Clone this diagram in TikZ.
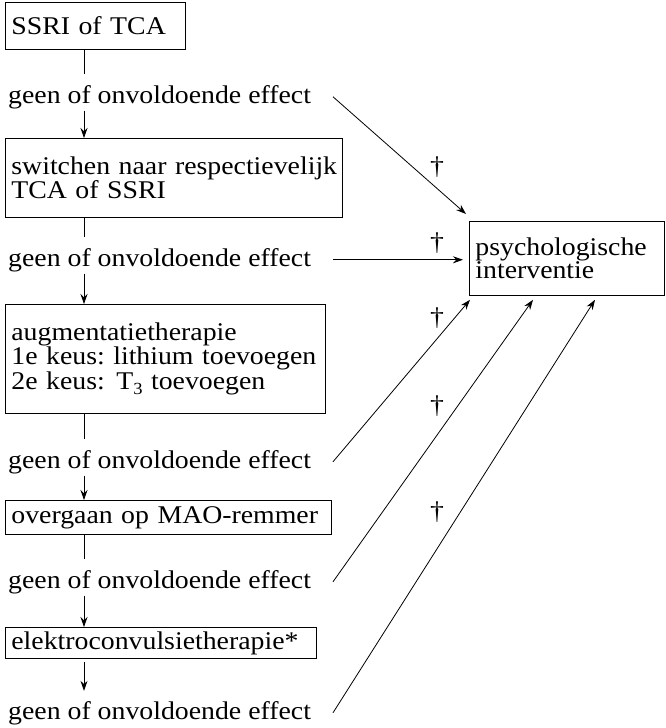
\documentclass[tikz,border=0pt]{standalone}
\usepackage{fontspec}
\setmainfont{Liberation Serif}[FakeStretch=1.09]
\usetikzlibrary{arrows.meta,calc}
\frenchspacing
\begin{document}
\begin{tikzpicture}[x=1pt,y=-1pt,
  every node/.style={font=\fontsize{25.5pt}{23pt}\selectfont},
  box/.style={draw, line width=0.8pt, anchor=north west, inner xsep=6pt, inner ysep=0pt, align=left},
  lbl/.style={anchor=base west, inner sep=2pt},
  ln/.style={line width=0.8pt},
  arr/.style={line width=0.8pt, -{Stealth[length=10pt,width=7pt]}},
  dag/.style={inner sep=0pt}]
\useasboundingbox (0,0) rectangle (665,728);
\coordinate (sp) at (84,0);
\coordinate (sx) at (333,0);
% left column boxes
\node[box, minimum width=180pt, minimum height=47pt, text width=168pt] (b1) at (5,2) {\mbox{SSRI of TCA}};
\node[box, minimum width=337pt, minimum height=79pt, text width=325pt] (b2) at (5,138) {\mbox{switchen naar respectievelijk}\\\mbox{TCA of SSRI}};
\node[box, minimum width=320pt, minimum height=109pt, text width=308pt] (b3) at (5,304) {\mbox{augmentatietherapie}\\\mbox{1e keus: lithium toevoegen}\\\mbox{2e keus:\hspace{3pt} T\raisebox{-5pt}{\fontsize{17pt}{17pt}\selectfont 3} toevoegen}};
\node[box, minimum width=326pt, minimum height=34pt, text width=314pt] (b4) at (5,500) {\mbox{overgaan op MAO-remmer}};
\node[box, minimum width=311pt, minimum height=31pt, text width=299pt] (b5) at (5,627) {\mbox{elektroconvulsietherapie*}};
% right box
\node[box, minimum width=195pt, minimum height=74pt, text width=183pt] (r) at (469,221) {\mbox{psychologische}\\\mbox{interventie}};
% labels
\node[lbl] (g1) at (6,103) {geen of onvoldoende effect};
\node[lbl] (g2) at (6,266) {geen of onvoldoende effect};
\node[lbl] (g3) at (6,468) {geen of onvoldoende effect};
\node[lbl] (g4) at (6,588) {geen of onvoldoende effect};
\node[lbl] (g5) at (6,719) {geen of onvoldoende effect};
% daggers
\node[dag] (d1) at (437,167) {†};
\node[dag] (d2) at (437,243) {†};
\node[dag] (d3) at (437,318) {†};
\node[dag] (d4) at (437,406) {†};
\node[dag] (d5) at (437,512) {†};
% vertical chain
\draw[ln] (b1.south -| sp) -- ($(g1.north -| sp)+(0,-9)$);
\draw[arr] (g1.south -| sp) -- (b2.north -| sp);
\draw[ln] (b2.south -| sp) -- ($(g2.north -| sp)+(0,-9)$);
\draw[arr] (g2.south -| sp) -- (b3.north -| sp);
\draw[ln] (b3.south -| sp) -- ($(g3.north -| sp)+(0,-9)$);
\draw[arr] (g3.south -| sp) -- (b4.north -| sp);
\draw[ln] (b4.south -| sp) -- ($(g4.north -| sp)+(0,-9)$);
\draw[arr] (g4.south -| sp) -- (b5.north -| sp);
\draw[arr] ($(b5.south -| sp)+(0,3)$) -- ($(g5.north -| sp)+(0,-8)$);
% diagonal arrows to the right box
\draw[arr] (g1 -| sx) -- ($(r.north west)+(-3,-7)$);
\draw[arr] (g2 -| sx) -- ($(r.west |- g2)+(-6,0)$);
\draw[arr] (g3 -| sx) -- ($(r.south west)+(1,4)$);
\draw[arr] (g4 -| sx) -- ($(r.south west)+(64,4)$);
\draw[arr] (g5 -| sx) -- ($(r.south west)+(126,4)$);
\end{tikzpicture}
\end{document}
